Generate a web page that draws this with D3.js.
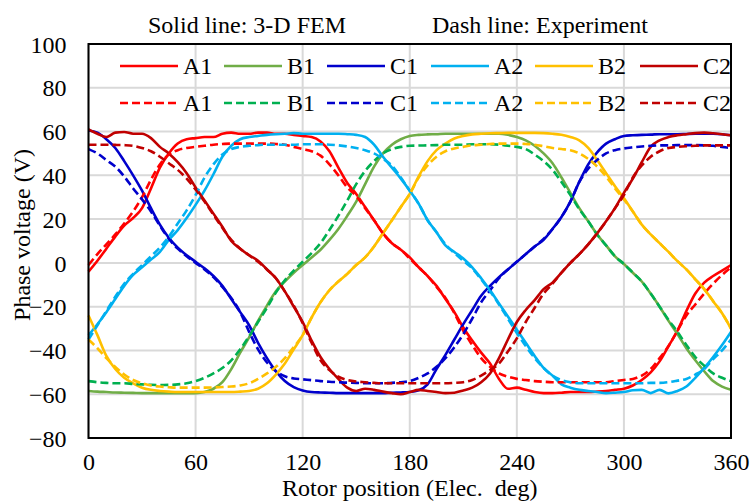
<!DOCTYPE html>
<html>
<head>
<meta charset="utf-8">
<script src="https://cdn.jsdelivr.net/npm/d3@7"></script>
<style>
  html, body { margin: 0; padding: 0; background: #fff; }
  svg { display: block; }
  text { font-family: "Liberation Serif", "Times New Roman", serif; fill: #000; }
</style>
</head>
<body>
<svg id="chart" width="752" height="502"></svg>
<script>
// ---- data ----
const angle = [0,5,10,15,20,25,30,35,40,45,50,55,60,65,70,75,80,85,90,95,100,105,110,115,120,125,130,135,140,145,150,155,160,165,170,175,180,185,190,195,200,205,210,215,220,225,230,235,240,245,250,255,260,265,270,275,280,285,290,295,300,305,310,315,320,325,330,335,340,345,350,355,360];

const femA1 = [-4,1,6.5,12,17,20.5,25,34,43.5,50,54.5,56.5,57,57.5,57.5,59,59.5,59,59,59.5,59.5,59,59,58.5,58,57.5,55.5,51,43.5,36.5,31.5,25.5,19.5,13.5,9,6,2.5,-2,-6,-10.5,-16.5,-22.5,-29.5,-35.5,-41,-46,-53,-57.5,-57,-58,-59,-59.5,-59.5,-59.3,-59,-59,-59,-58.8,-58.5,-58,-57.5,-56,-53.5,-50,-45,-38,-31,-22,-14,-9,-6,-3.5,-1];
const expA1 = [-1,4,8.5,13,18,23.5,30,38,45,49.5,51.5,52.5,53,53.5,54,54.3,54.5,54.5,54.5,54.5,54.5,54.3,54,53,52,51,49,45,40,34.5,30.5,25,19.5,13.5,9,6,2,-2,-6,-11,-16,-23,-31,-37.5,-43.5,-47.5,-50.5,-52,-53,-53.5,-54,-54.3,-54.5,-54.5,-54.5,-54.5,-54.5,-54.5,-54.5,-54,-53.5,-53,-51.5,-48.5,-43.5,-38,-31,-24,-19,-14,-9.5,-5.5,-2];

const femB1 = [-58.5,-58.8,-59,-59.2,-59.3,-59.4,-59.5,-59.5,-59.5,-59.5,-59.5,-59.5,-59.5,-59,-57.5,-54.5,-48.5,-41,-34,-26.5,-19.5,-13,-8.5,-4.5,-1,2.5,6,10.5,15.5,21.5,28,36,44,50,54,56.5,58,58.5,58.7,58.8,59,59,59,59,59,59,59,58.5,57.5,56,53.5,50,45.5,39,32,25,19,13,8,3,-0.5,-4.5,-8.5,-14,-20,-26.5,-32.5,-39,-44.5,-49.5,-54,-56.5,-58];
const expB1 = [-54,-54.5,-54.8,-55,-55,-55.3,-55.5,-55.7,-55.8,-55.7,-55.5,-55,-54,-52.5,-50.5,-48,-44.5,-39.5,-33.5,-27,-20.5,-13.5,-8,-3.5,0.5,4.5,9,15,21.5,28.5,36,42,46.5,50,52,53,53.5,53.6,53.7,53.8,54,54,54,54.2,54.2,54.2,54,53.5,53,52,49.5,46.5,42.5,37,31,24.5,19,13,8,3,-0.5,-4.5,-8.5,-14,-20,-26,-31.5,-37.5,-43,-47,-50.5,-52.5,-54];

const femC1 = [60.5,59.5,56.5,52.5,46.5,40,33,25,17.5,11.5,7,3.5,0.5,-2.5,-6,-10.5,-16.5,-22.5,-28.5,-36.5,-43.5,-49.5,-54,-56.8,-58.3,-59,-59.2,-59.3,-59.5,-59.5,-59.5,-59.5,-59.5,-59.5,-59.3,-59.2,-59,-58.2,-55.5,-48.5,-42,-35,-28,-21.5,-15,-10.5,-6.5,-3,0.5,4,7.5,10.5,15.5,21,28,37,45,50.5,54.5,56.5,58,58.3,58.5,58.6,58.8,58.8,58.8,58.9,59,59,59,58.8,58.3];
const expC1 = [52,50,47,44,39.5,34,29,23.5,17,11,6.5,3,0,-3,-6.5,-11,-16,-22.5,-31.5,-39.5,-45.5,-49.5,-51.8,-52.8,-53.2,-53.6,-54,-54.3,-54.5,-54.7,-54.8,-55,-55,-55,-54.8,-54.5,-54,-52.5,-50.5,-47.5,-43.5,-38.5,-32.5,-25.5,-18,-12.5,-7,-3,0.5,4,7.5,11,15.5,21,28,37,43,47,50,51.5,52.3,52.8,53.2,53.5,53.7,53.7,53.8,53.8,53.8,53.7,53.5,53,52.5];

const femA2 = [-33,-28,-22.5,-16.5,-10.5,-5.5,-2,1.5,5,10.5,15,20.5,26.5,33,40.5,48.5,53.5,56.5,57.5,58,58.5,58.8,59,59.3,59,59,59,59,59,58.8,58.5,57.5,54,48.5,43.5,38.5,33,27,19.5,14,8,5,2,-2,-7,-12.5,-18.5,-24.5,-30.5,-36.5,-42.5,-48,-51.5,-55.5,-57,-58,-58.5,-59,-59.5,-59.3,-59,-58.2,-58,-59.5,-58,-59.6,-58.5,-56.5,-52.5,-48,-43,-37.5,-31.5];
const expA2 = [-35,-28.5,-22,-15.5,-9.5,-5,-1,3,7,12,18,24,31,39,45,49.5,52,53,53.5,53.8,54,54,54,54,54.2,54.2,54.2,54,53.7,53.2,52.5,51.5,50,47.5,44.5,39,33,27,19.5,14,8.5,4.5,1,-2.5,-7.5,-13,-19,-25.5,-32,-38,-43.5,-48,-51.5,-53.5,-54.5,-55,-55,-55,-55,-55,-55,-55,-55,-54.8,-54.8,-54.5,-53.8,-53,-51,-48.5,-44,-40,-35];

const femB2 = [-24,-33,-42.5,-48.5,-52.5,-55,-57,-58,-58.5,-58.8,-59,-59,-59,-59,-59,-59,-59,-58.8,-58.5,-57.5,-55,-51,-46,-39.5,-33,-25,-18,-12.5,-8.5,-5,-1,2.5,7.5,13.5,19.5,25.5,31.5,39.5,46.5,51.5,54.5,56.8,58,58.7,59,59.2,59.3,59.4,59.4,59.4,59.4,59.3,59,58.5,57.5,56,52.5,47,41,35,29.5,23.5,17.5,13,9,5,0.8,-3,-7.5,-12,-17.5,-23,-30];
const expB2 = [-35,-39,-43.5,-47.5,-51,-53.5,-55,-56,-56.5,-56.8,-57,-57,-57,-57,-56.9,-56.7,-56.5,-56,-55,-53,-50.5,-47.5,-43.5,-38.5,-33,-25,-18,-12.5,-8.5,-5,-1,2.5,7.5,13.5,19.5,25.5,31.5,39,44.5,48.5,51,52.3,53,53.7,54,54.3,54.5,54.5,54.5,54.3,54,53.3,52.5,52,51.5,50,47.5,44,39.5,34,29,23.5,17.5,13,9,5,0.8,-3,-7.5,-12,-17.5,-23,-30];

const femC2 = [61,59,57.5,59.5,59.8,59,59,57,53,50,46,41,34.5,28.5,22.5,16.5,10,6.5,3.5,1,-3,-7,-13,-20,-27,-35.5,-43,-48.5,-53,-57,-58.5,-57.5,-58,-58.8,-59.5,-60,-59,-58,-58.5,-59,-59.5,-59.3,-58.3,-57,-54.5,-50.5,-43.5,-35,-27,-21.5,-17,-12,-9,-4.5,0,4,8.5,13.5,19,25,32,38.5,46,53,56,57.5,58.3,58.8,59.3,59.5,59.2,58.8,58.3];
const expC2 = [54,54,54,53.9,53.8,53.5,52.5,51,48.5,45.5,42.5,38.5,33.5,28,22,16,10.5,6.5,3.5,0.5,-3,-7,-13,-19.5,-27.5,-36.5,-44.5,-49,-52,-53.5,-54.2,-54.5,-54.8,-55,-55,-55,-55,-55,-55,-55,-55,-54.8,-54.5,-53.5,-51.5,-49,-46,-40.5,-34.5,-27,-20.5,-14,-9.5,-4.5,0,4,8.5,13.5,19,25,31,39,44.5,48.5,51,52.5,53,53.3,53.5,53.7,53.7,53.7,53.7];

const seriesNames = ["A1","B1","C1","A2","B2","C2"];
const femColors = ["#FF0000","#70AD47","#0000CC","#00B0F0","#FFC000","#C00000"];
const expColors = ["#FF0000","#00B050","#0000CC","#00B0F0","#FFC000","#C00000"];
const femValues = [femA1, femB1, femC1, femA2, femB2, femC2];
const expValues = [expA1, expB1, expC1, expA2, expB2, expC2];

const xTicks = [0,60,120,180,240,300,360];
const yTicks = [-80,-60,-40,-20,0,20,40,60,80,100];

const titleSolid = "Solid line: 3-D FEM";
const titleDash = "Dash line: Experiment";
const xTitle = "Rotor position (Elec.\u00A0 deg)";
const yTitle = "Phase voltage (V)";

// ---- drawing ----
const svg = d3.select("#chart");
const L = 88.5, R = 731, T = 44, B = 438;
const x = d3.scaleLinear().domain([0, 360]).range([L, R]);
const y = d3.scaleLinear().domain([-80, 100]).range([B, T]);
const FS = 24;

// gridlines
const grid = svg.append("g");
grid.selectAll("line.h").data(yTicks).join("line")
  .attr("x1", L).attr("x2", R)
  .attr("y1", d => y(d)).attr("y2", d => y(d))
  .attr("stroke", "#d9d9d9").attr("stroke-width", 2);
grid.selectAll("line.v").data(xTicks).join("line")
  .attr("y1", T).attr("y2", B)
  .attr("x1", d => x(d)).attr("x2", d => x(d))
  .attr("stroke", "#d9d9d9").attr("stroke-width", 2);

// axes (labels only, via d3 axis)
const xAxis = svg.append("g").attr("transform", `translate(0,${B})`)
  .call(d3.axisBottom(x).tickValues(xTicks).tickSize(0).tickPadding(22).tickFormat(d3.format("d")));
const yAxis = svg.append("g").attr("transform", `translate(${L},0)`)
  .call(d3.axisLeft(y).tickValues(yTicks).tickSize(0).tickPadding(22).tickFormat(d3.format("d")));
[xAxis, yAxis].forEach(g => {
  g.select(".domain").remove();
  g.selectAll("text").attr("font-size", FS).attr("font-family", "Liberation Serif, Times New Roman, serif").attr("fill", "#000");
});
xAxis.selectAll("text").attr("dy", null).attr("y", 32);
yAxis.selectAll("text").attr("dy", "0.34em");

// lines
const line = d3.line()
  .x((d, i) => x(angle[i]))
  .y(d => y(d))
  .curve(d3.curveMonotoneX);

const plot = svg.append("g");
femValues.forEach((vals, k) => {
  plot.append("path").datum(vals)
    .attr("d", line).attr("fill", "none")
    .attr("stroke", femColors[k]).attr("stroke-width", 2.6)
    .attr("stroke-linejoin", "round");
});
expValues.forEach((vals, k) => {
  plot.append("path").datum(vals)
    .attr("d", line).attr("fill", "none")
    .attr("stroke", expColors[k]).attr("stroke-width", 2.6)
    .attr("stroke-dasharray", "8,4");
});

// plot border
svg.append("rect").attr("x", L).attr("y", T).attr("width", R - L).attr("height", B - T)
  .attr("fill", "none").attr("stroke", "#000").attr("stroke-width", 2);

// legend
const legX = [120, 224, 327, 431, 535, 640];
const rows = [{yy: 66, cols: femColors, dash: null}, {yy: 103, cols: expColors, dash: "8,4"}];
rows.forEach(row => {
  seriesNames.forEach((name, k) => {
    const g = svg.append("g");
    g.append("line").attr("x1", legX[k]).attr("x2", legX[k] + 58)
      .attr("y1", row.yy).attr("y2", row.yy)
      .attr("stroke", row.cols[k]).attr("stroke-width", 2.6)
      .attr("stroke-dasharray", row.dash);
    g.append("text").attr("x", legX[k] + 63).attr("y", row.yy).attr("dy", "0.34em")
      .attr("font-size", FS).text(name);
  });
});

// titles
svg.append("text").attr("x", 148).attr("y", 33).attr("font-size", FS).text(titleSolid);
svg.append("text").attr("x", 432).attr("y", 33).attr("font-size", FS).text(titleDash);
svg.append("text").attr("x", (L + R) / 2).attr("y", 496).attr("text-anchor", "middle")
  .attr("font-size", FS).text(xTitle);
svg.append("text").attr("transform", "translate(30,235) rotate(-90)")
  .attr("text-anchor", "middle").attr("font-size", FS).text(yTitle);
</script>
</body>
</html>
